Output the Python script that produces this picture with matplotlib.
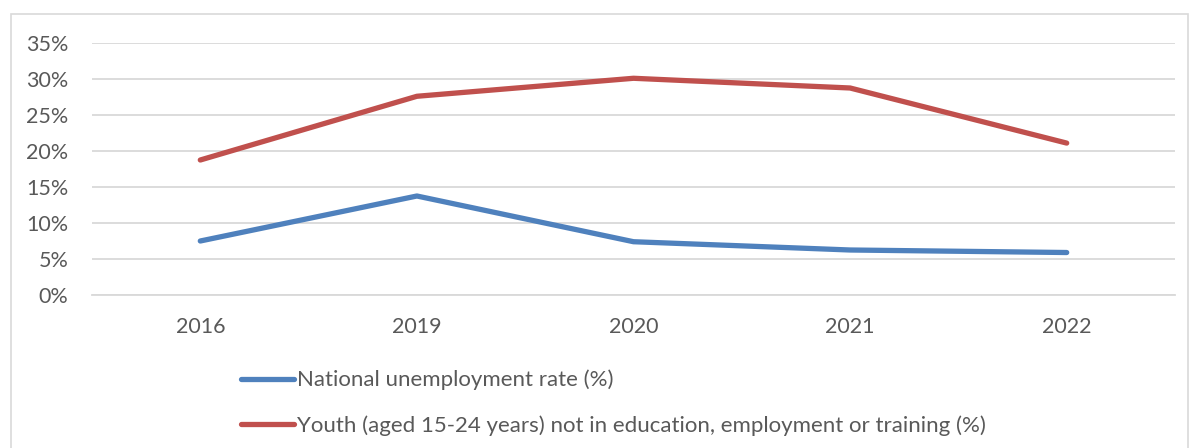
import matplotlib.pyplot as plt
from matplotlib.patches import Rectangle
from matplotlib.ticker import PercentFormatter

years = ["2016", "2019", "2020", "2021", "2022"]
unemployment = [0.075, 0.1375, 0.074, 0.0625, 0.059]
youth_neet = [0.1875, 0.276, 0.301, 0.2875, 0.211]
series_labels = [
    "National unemployment rate (%)",
    "Youth (aged 15-24 years) not in education, employment or training (%)",
]
yticks = [0.0, 0.05, 0.10, 0.15, 0.20, 0.25, 0.30, 0.35]

plt.rcParams["font.family"] = ["Lato", "DejaVu Sans"]
TEXT = "#595959"

fig = plt.figure(figsize=(11.92, 4.48), dpi=100)
fig.patches.append(Rectangle((11 / 1192, -0.05), 1177 / 1192, 1.05 - 14 / 448,
                             transform=fig.transFigure, fill=False,
                             edgecolor="#D9D9D9", lw=1.2))

ax = fig.add_axes([92 / 1192, 1 - 295 / 448, (1175 - 92) / 1192, (295 - 43) / 448])
x = range(len(years))
ax.plot(x, unemployment, color="#4F81BD", lw=3.8, solid_capstyle="round",
        label=series_labels[0])
ax.plot(x, youth_neet, color="#C0504D", lw=3.8, solid_capstyle="round",
        label=series_labels[1])

ax.set_xlim(-0.5, len(years) - 0.5)
ax.set_ylim(0, 0.35)
ax.set_xticks(list(x))
ax.set_xticklabels(years)
ax.set_yticks(yticks)
ax.yaxis.set_major_formatter(PercentFormatter(1.0, decimals=0))
ax.grid(axis="y", color="#D9D9D9", lw=1.3)
ax.set_axisbelow(True)
for side in ("top", "right", "left"):
    ax.spines[side].set_visible(False)
ax.spines["bottom"].set_color("#D9D9D9")
ax.spines["bottom"].set_linewidth(1.3)
ax.tick_params(length=0, labelsize=15.5, colors=TEXT)
ax.tick_params(axis="x", pad=16)
ax.tick_params(axis="y", pad=17)

fig.legend(loc="upper left", bbox_to_anchor=(232 / 1192, 1 - 361 / 448),
           frameon=False, fontsize=16, labelcolor=TEXT, handlelength=2.4,
           handletextpad=0.12, labelspacing=1.1, borderaxespad=0)

fig.savefig("out.png", dpi=100)
